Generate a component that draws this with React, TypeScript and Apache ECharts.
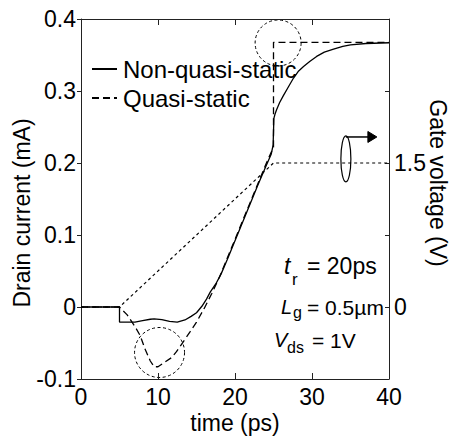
import React, { useEffect, useRef } from "react";
import * as echarts from "echarts";

// Non-quasi-static drain current (mA) vs time (ps)
const nqsTime = [0, 5, 5, 6, 7, 8, 9, 9.5, 10.5, 11.5, 12.5, 13.5, 14.3, 15, 15.7, 16.3, 16.8, 17.5, 18.2, 19, 20, 21, 22, 23, 24, 24.7, 24.95, 25.05, 25.2, 25.4, 25.8, 26.3, 27, 27.6, 28.2, 28.9, 29.7, 30.6, 31.6, 32.8, 34, 35, 37, 40];
const nqsCurrent = [0, 0, -0.021, -0.021, -0.021, -0.019, -0.017, -0.0165, -0.0175, -0.02, -0.021, -0.018, -0.013, -0.008, 0.001, 0.011, 0.021, 0.032, 0.046, 0.066, 0.092, 0.118, 0.144, 0.17, 0.195, 0.212, 0.225, 0.262, 0.268, 0.274, 0.284, 0.294, 0.307, 0.318, 0.327, 0.334, 0.341, 0.348, 0.354, 0.358, 0.362, 0.364, 0.366, 0.367];

// Quasi-static drain current (mA) vs time (ps)
const qsTime = [0, 5, 6, 7, 7.7, 8.3, 9, 9.5, 10, 10.7, 11.8, 12.4, 13.3, 14.2, 15, 16, 17, 18, 19, 20, 21, 22, 23, 24, 25, 25, 40];
const qsCurrent = [0, 0, -0.011, -0.027, -0.04, -0.058, -0.075, -0.083, -0.083, -0.078, -0.07, -0.062, -0.048, -0.034, -0.021, -0.002, 0.019, 0.042, 0.068, 0.094, 0.12, 0.146, 0.172, 0.198, 0.222, 0.3676, 0.3676];

// Gate voltage (V) vs time (ps)
const gateTime = [0, 5, 25, 40];
const gateVoltage = [0, 0, 1.5, 1.5];

const legendNames = ["Non-quasi-static", "Quasi-static"];
const rightAxisLabels = [0, 1.5];

const zip = (a: number[], b: number[]) => a.map((x, i) => [x, b[i]]);

const FONT = "'Liberation Sans', Arial, Helvetica, sans-serif";

export default function App() {
  const ref = useRef<HTMLDivElement>(null);
  useEffect(() => {
    if (!ref.current) return;
    const chart = echarts.init(ref.current, undefined, { renderer: "svg" });
    const axisLine = { show: true, onZero: false, lineStyle: { color: "#222", width: 1 } };
    const option: any = {
      animation: false,
      backgroundColor: "#fff",
      textStyle: { fontFamily: FONT },
      grid: { left: 81, right: 63, top: 19, bottom: 62, containLabel: false, outerBoundsMode: "none" },
      legend: {
        data: legendNames,
        orient: "vertical",
        left: 86,
        top: 52,
        itemWidth: 25,
        itemHeight: 14,
        itemGap: 5,
        itemStyle: { color: "rgba(0,0,0,0)", borderWidth: 0, opacity: 0 },
        textStyle: { fontSize: 24, color: "#000", fontFamily: FONT, lineHeight: 24, padding: [0, 0, 0, 1] },
        selectedMode: false,
      },
      xAxis: [
        {
          type: "value",
          position: "bottom",
          min: 0,
          max: 40,
          interval: 10,
          axisLine,
          axisTick: { show: true, inside: true, length: 6, lineStyle: { color: "#222" } },
          axisLabel: { fontSize: 23, color: "#000", margin: 6, fontFamily: FONT },
          splitLine: { show: false },
          name: "time (ps)",
          nameLocation: "middle",
          nameGap: 32,
          nameMoveOverlap: false,
          nameTextStyle: { fontSize: 23, color: "#000", fontFamily: FONT },
        },
        {
          type: "value",
          position: "top",
          min: 0,
          max: 40,
          interval: 10,
          axisLine,
          axisTick: { show: true, inside: true, length: 6, lineStyle: { color: "#222" } },
          axisLabel: { show: false },
          splitLine: { show: false },
        },
      ],
      yAxis: [
        {
          type: "value",
          position: "left",
          min: -0.1,
          max: 0.4,
          interval: 0.1,
          axisLine,
          axisTick: { show: true, inside: false, length: 4, lineStyle: { color: "#222" } },
          axisLabel: { fontSize: 23, color: "#000", margin: 5, fontFamily: FONT },
          splitLine: { show: false },
          name: "Drain current (mA)",
          nameLocation: "middle",
          nameGap: 48,
          nameMoveOverlap: false,
          nameTextStyle: { fontSize: 23, color: "#000", fontFamily: FONT, padding: [0, 28, 0, 0] },
        },
        {
          type: "value",
          position: "right",
          min: -0.75,
          max: 3,
          interval: 0.75,
          axisLine,
          axisTick: { show: true, inside: true, length: 4, lineStyle: { color: "#222" } },
          axisLabel: {
            fontSize: 23,
            color: "#000",
            margin: 5,
            fontFamily: FONT,
            formatter: (v: number) => (rightAxisLabels.includes(v) ? String(v) : ""),
          },
          splitLine: { show: false },
          name: "Gate voltage (V)",
          nameLocation: "middle",
          nameRotate: -90,
          nameGap: 37,
          nameMoveOverlap: false,
          nameTextStyle: { fontSize: 23, color: "#000", fontFamily: FONT, padding: [0, 32, 0, 0] },
        },
      ],
      series: [
        {
          name: "Gate voltage",
          type: "line",
          xAxisIndex: 0,
          yAxisIndex: 1,
          data: zip(gateTime, gateVoltage),
          symbol: "none",
          lineStyle: { color: "#000", width: 1.2, type: [3, 3] },
          z: 1,
        },
        {
          name: "Quasi-static",
          type: "line",
          xAxisIndex: 0,
          yAxisIndex: 0,
          data: zip(qsTime, qsCurrent),
          symbol: "none",
          lineStyle: { color: "#000", width: 1.3, type: [7, 4] },
          itemStyle: { color: "#000" },
          z: 2,
        },
        {
          name: "Non-quasi-static",
          type: "line",
          xAxisIndex: 0,
          yAxisIndex: 0,
          data: zip(nqsTime, nqsCurrent),
          symbol: "none",
          smooth: false,
          lineStyle: { color: "#000", width: 1.3, type: "solid" },
          itemStyle: { color: "#000" },
          z: 3,
        },
      ],
    };
    chart.setOption(option);

    const px = (t: number, v: number) => chart.convertToPixel({ xAxisIndex: 0, yAxisIndex: 0 }, [t, v]) as number[];
    const c1 = px(10.2, -0.0632);
    const c2 = px(25.6, 0.3667);
    const el = px(34.4, 0.2056);
    const dashStroke = { stroke: "#000", fill: "none", lineWidth: 1, lineDash: [3, 2.5] };
    const txt = (text: string, x: number, y: number, size: number, extra: any = {}) => ({
      type: "text",
      style: { text, x, y, fill: "#000", fontSize: size, fontFamily: FONT, textAlign: "left", textVerticalAlign: "middle", ...extra },
    });
    chart.setOption({
      graphic: [
        { type: "circle", shape: { cx: c1[0], cy: c1[1], r: 25 }, style: dashStroke, silent: true },
        { type: "circle", shape: { cx: c2[0], cy: c2[1], r: 23 }, style: dashStroke, silent: true },
        { type: "ellipse", shape: { cx: el[0], cy: el[1], rx: 5, ry: 23 }, style: { stroke: "#000", fill: "none", lineWidth: 1.2 }, silent: true },
        { type: "line", shape: { x1: el[0], y1: el[1] - 22, x2: el[0] + 24, y2: el[1] - 22 }, style: { stroke: "#000", lineWidth: 1.5 }, silent: true },
        {
          type: "polygon",
          shape: { points: [[el[0] + 22, el[1] - 27.5], [el[0] + 31, el[1] - 22], [el[0] + 22, el[1] - 16.5]] },
          style: { fill: "#000", stroke: "#000" },
          silent: true,
        },
        txt("t", 284, 266, 23, { fontStyle: "italic" }),
        txt("r", 292, 279, 17),
        txt("= 20ps", 307, 266, 23),
        txt("L", 281, 307, 20, { fontStyle: "italic" }),
        txt("g", 293, 312, 16),
        txt("= 0.5µm", 307, 307, 21),
        txt("V", 274, 340, 20, { fontStyle: "italic" }),
        txt("ds", 287, 347, 16),
        txt("= 1V", 312, 340, 21),
      ],
    });
    return () => chart.dispose();
  }, []);
  return <div ref={ref} style={{ position: "fixed", left: 0, top: 0, width: 452, height: 441 }} />;
}
